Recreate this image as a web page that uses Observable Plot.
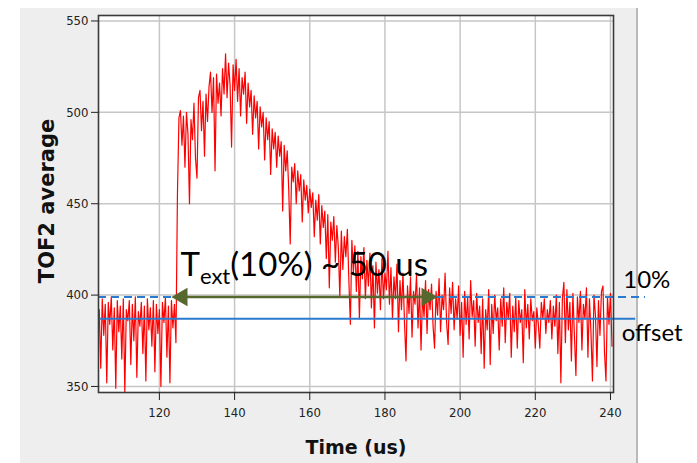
<!DOCTYPE html>
<html>
<head>
<meta charset="utf-8">
<script src="https://cdn.jsdelivr.net/npm/d3@7"></script>
<script src="https://cdn.jsdelivr.net/npm/@observablehq/plot@0.6"></script>
<style>
  html, body { margin: 0; padding: 0; background: #fff; }
  #wrap { position: relative; width: 697px; height: 463px; background: #fff; overflow: hidden; }
  #panel { position: absolute; left: 20px; top: 8px; width: 616px; height: 455px; background: #eeeeee; border-right: 2px solid #b9b9b9; }
  #chart { position: absolute; left: 0; top: 0; }
</style>
</head>
<body>
<div id="wrap">
  <div id="panel"></div>
  <div id="chart"></div>
</div>
<script>
// TOF2 average signal, sampled every 0.4 us, split into blocks by start time (us)
const sampleStep = 0.4;

const baselineStart = 104.0;
const baselineValues = [
  392, 360, 398, 378, 395, 352, 396, 384, 399, 370, 393, 349, 397, 380, 394, 365,
  398, 347, 392, 386, 397, 362, 395, 375, 399, 355, 391, 383, 396, 368, 394, 353,
  398, 381, 393, 372, 397, 358, 395, 379, 392, 350, 396, 385, 399, 366, 394, 352,
  397, 382, 395, 374
];

const riseStart = 124.8;
const riseValues = [
  455, 497, 501, 482, 498, 470, 500, 488, 450, 496, 485, 505, 475, 464, 508, 512,
  490, 506, 476, 510, 495, 514, 522, 500, 519, 468, 521, 505, 516, 498, 524, 510,
  532, 508, 527, 515, 481, 526, 512
];

const decayStart = 140.4;
const decayValues = [
  529, 506, 524, 498, 519, 510, 522, 494, 516, 503, 512, 488, 509, 497, 506, 480,
  503, 492, 500, 474, 497, 485, 495, 466, 491, 480, 489, 470, 487, 476, 484, 446,
  482, 468, 479, 458, 428, 470, 462, 472, 450, 468, 457, 466, 440, 463, 452, 460,
  445, 458
];

const tailStart = 160.4;
const tailValues = [
  448, 456, 432, 452, 441, 455, 428, 449, 437, 446, 420, 444, 404, 440, 430, 443,
  418, 438, 426, 399, 435, 414, 432, 421, 436, 408, 384, 430, 412, 427, 402, 424,
  387, 421, 409, 426, 398, 419, 405, 423, 393, 416, 382, 418, 401, 414, 392, 420,
  398, 412
];

const settleStart = 180.4;
const settleValues = [
  403, 424, 395, 415, 387, 410, 398, 417, 380, 408, 392, 412, 385, 364, 405, 390,
  410, 377, 402, 395, 411, 382, 404, 370, 400, 388, 408, 379, 403, 392, 406, 383,
  371, 402, 389, 409, 380, 400, 392, 412, 385, 373, 404, 390, 407, 381, 398, 387,
  405, 378
];

const floorStart = 200.4;
const floorValues = [
  396, 366, 402, 384, 399, 376, 408, 388, 397, 372, 401, 385, 394, 368, 398, 360,
  392, 381, 403, 362, 395, 379, 400, 386, 393, 370, 398, 383, 404, 374, 396, 387,
  401, 366, 394, 380, 399, 371, 397, 385, 392, 363, 403, 382, 395, 376, 398, 386,
  391, 371
];

const endStart = 220.4;
const endValues = [
  393, 384, 371, 396, 387, 398, 379, 392, 385, 397, 376, 394, 383, 400, 368, 396,
  352, 398, 407, 374, 403, 381, 396, 364, 401, 378, 356, 399, 385, 402, 370, 395,
  387, 404, 366, 398, 380, 353, 400, 389, 361, 397, 378, 402, 405, 369, 353, 399,
  384, 401, 372
];

// reference levels and annotation
const offsetLevel = 387;
const tenPctLevel = 399;
const extFrom = 123.2;   // arrow tip, left
const extTo = 194.0;     // arrow tip, right

const xTicks = [120, 140, 160, 180, 200, 220, 240];
const yTicks = [350, 400, 450, 500, 550];

const blocks = [
  [baselineStart, baselineValues],
  [riseStart, riseValues],
  [decayStart, decayValues],
  [tailStart, tailValues],
  [settleStart, settleValues],
  [floorStart, floorValues],
  [endStart, endValues]
];
const series = blocks.flatMap(([start, vals]) =>
  vals.map((v, i) => ({t: +(start + i * sampleStep).toFixed(2), v}))
);

// text widths for the subscripted annotation
const annFamily = "Lato";
const annSize = 33, subSize = 22;
const ctx = document.createElement("canvas").getContext("2d");
function widthOf(str, px) { ctx.font = `${px}px ${annFamily}`; return ctx.measureText(str).width; }
const wT = widthOf("T", annSize);
const wExt = widthOf("ext", subSize);

const blue = "#2a7bd0";
const olive = "#56682d";
const annot = [{t: 125.6, v: tenPctLevel}];

const chart = Plot.plot({
  width: 697,
  height: 463,
  marginLeft: 98,
  marginRight: 84,
  marginTop: 15,
  marginBottom: 71,
  style: {
    fontFamily: "'DejaVu Sans Condensed', 'DejaVu Sans', sans-serif",
    fontSize: "13px",
    background: "transparent",
    overflow: "visible",
    color: "#222"
  },
  x: {domain: [103.8, 240.8]},
  y: {domain: [346.7, 553]},
  marks: [
    Plot.frame({fill: "white"}),
    Plot.gridX(xTicks, {stroke: "#c6c6c6", strokeOpacity: 1, strokeWidth: 1.5}),
    Plot.gridY(yTicks, {stroke: "#c6c6c6", strokeOpacity: 1, strokeWidth: 1.5}),
    Plot.line(series, {x: "t", y: "v", stroke: "#ff0000", strokeWidth: 1.2}),
    Plot.ruleY([tenPctLevel], {x1: 103.8, x2: 249.3, stroke: blue, strokeWidth: 2, strokeDasharray: "8,5"}),
    Plot.ruleY([offsetLevel], {x1: 103.8, x2: 246.7, stroke: blue, strokeWidth: 2}),
    Plot.frame({stroke: "#3a3a3a", strokeWidth: 1.6}),
    Plot.axisX(xTicks, {tickSize: 8, tickPadding: 7, label: null, tickFormat: "d"}),
    Plot.axisY(yTicks, {tickSize: 7, tickPadding: 3, label: null, tickFormat: "d"}),
    Plot.text(["TOF2 average"], {frameAnchor: "left", textAnchor: "middle", lineAnchor: "middle", rotate: -90, dx: -51, dy: -3,
      fontFamily: "DejaVu Sans", fontWeight: "bold", fontSize: 21, fill: "#111"}),
    Plot.text(["Time (us)"], {frameAnchor: "bottom", textAnchor: "middle", lineAnchor: "middle", dy: 55,
      fontFamily: "DejaVu Sans", fontWeight: "bold", fontSize: 19, fill: "#111"}),
    // extraction-time arrow between the two 10% crossings
    Plot.ruleY([tenPctLevel], {x1: extFrom, x2: extTo, stroke: olive, strokeWidth: 2.5, insetLeft: 8, insetRight: 8}),
    Plot.dot([extFrom], {x: d => d, y: () => tenPctLevel, symbol: "triangle", r: 6.9, rotate: -90, dx: 10.7, fill: olive, stroke: "none"}),
    Plot.dot([extTo], {x: d => d, y: () => tenPctLevel, symbol: "triangle", r: 6.9, rotate: 90, dx: -10.7, fill: olive, stroke: "none"}),
    Plot.text(annot, {x: "t", y: "v", text: () => "T", textAnchor: "start", lineAnchor: "bottom", dy: -21,
      fontFamily: annFamily, fontSize: annSize, fill: "#000"}),
    Plot.text(annot, {x: "t", y: "v", text: () => "ext", textAnchor: "start", lineAnchor: "bottom", dy: -13, dx: wT,
      fontFamily: annFamily, fontSize: subSize, fill: "#000"}),
    Plot.text(annot, {x: "t", y: "v", text: () => "(10%) ~ 50 us", textAnchor: "start", lineAnchor: "bottom", dy: -21, dx: wT + wExt,
      fontFamily: annFamily, fontSize: annSize, fill: "#000"}),
    Plot.text([tenPctLevel], {x: () => 243.4, y: d => d, text: () => "10%", textAnchor: "start", lineAnchor: "bottom", dy: -9,
      fontFamily: annFamily, fontSize: 24, fill: "#000"}),
    Plot.text([offsetLevel], {x: () => 243.0, y: d => d, text: () => "offset", textAnchor: "start", lineAnchor: "bottom", dy: 22,
      fontFamily: annFamily, fontSize: 24, fill: "#000"})
  ]
});
document.getElementById("chart").appendChild(chart);
</script>
</body>
</html>
